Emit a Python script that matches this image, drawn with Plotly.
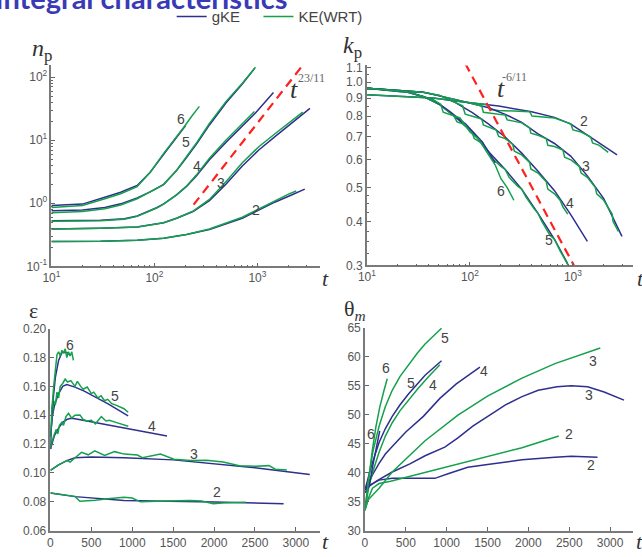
import plotly.graph_objects as go

W, H = 642, 557
BLUE = "#2e2f8f"
GREEN = "#15a04c"
RED = "#ff2020"
SANS = "Liberation Sans, Arial, sans-serif"
SERIF = "Liberation Serif, Times New Roman, serif"
TICKC = "#555555"

# ---------------- panel 1: n_p(t), log-log ----------------
np_t_b2 = [10, 30, 68, 123, 205, 342, 713, 1030, 1490, 2140, 2880]
np_b2 = [0.248, 0.25, 0.26, 0.28, 0.32, 0.385, 0.58, 0.78, 1.05, 1.35, 1.68]
np_t_g2 = [10, 30, 68, 123, 205, 342, 713, 1030, 1490, 2000, 2380]
np_g2 = [0.248, 0.25, 0.26, 0.28, 0.32, 0.39, 0.6, 0.82, 1.1, 1.4, 1.57]

np_t_b3 = [10, 30, 68, 123, 164, 237, 342, 494, 713, 1030, 1490, 2140, 2700, 3230]
np_b3 = [0.39, 0.40, 0.42, 0.49, 0.58, 0.74, 1.1, 2.0, 3.9, 7.0, 11.5, 18.5, 25, 32]
np_t_g3 = [10, 30, 68, 123, 164, 237, 342, 494, 713, 1030, 1490, 2140, 2750]
np_g3 = [0.39, 0.40, 0.42, 0.49, 0.58, 0.75, 1.15, 2.2, 4.4, 7.9, 12.8, 20, 28]

np_t_b4 = [10, 30, 51, 68, 105, 123, 164, 205, 255, 342, 494, 713, 956, 1430]
np_b4 = [0.53, 0.54, 0.57, 0.63, 0.85, 0.98, 1.36, 1.85, 2.7, 4.9, 9.2, 16.5, 27, 57]
np_t_g4 = [10, 30, 51, 68, 105, 123, 164, 205, 255, 342, 494, 713, 935]
np_g4 = [0.52, 0.53, 0.56, 0.62, 0.84, 0.97, 1.36, 1.88, 2.8, 5.2, 10, 18, 28.5]

np_t_b5 = [10, 20, 33, 47, 68, 91, 123, 164, 205, 260, 342, 494, 713, 940]
np_b5 = [0.76, 0.78, 0.86, 0.98, 1.22, 1.52, 2.0, 3.3, 5.3, 9.0, 17.5, 39, 78, 138]
np_t_g5 = [10, 20, 33, 47, 68, 91, 123, 164, 205, 260, 342, 494, 713, 956]
np_g5 = [0.71, 0.74, 0.82, 0.94, 1.18, 1.5, 1.98, 3.35, 5.5, 9.4, 18.5, 41, 80, 144]

np_t_b6 = [10, 20, 33, 47, 68, 91, 123, 164, 200]
np_b6 = [0.92, 0.97, 1.25, 1.5, 1.92, 3.1, 6.0, 11.0, 17.0]
np_t_g6 = [10, 20, 33, 47, 68, 91, 123, 164, 197, 230, 273]
np_g6 = [0.86, 0.92, 1.18, 1.42, 1.84, 3.1, 6.2, 11.3, 16.8, 24, 34.5]

np_t_fit = [240, 2750]
np_fit = [0.95, 155]

# ---------------- panel 2: k_p(t), log-log ----------------
kp_t_b2 = [10, 24.3, 43.8, 91, 190, 396, 662, 955, 1487, 2680]
kp_b2 = [0.92, 0.91, 0.90, 0.876, 0.854, 0.823, 0.793, 0.759, 0.697, 0.62]
kp_t_g2 = [10, 24.3, 43.8, 91, 150, 160, 190, 300, 380, 400, 500, 662, 900, 955, 1000,
           1200, 1487, 1550, 1800, 2000, 2200]
kp_g2 = [0.92, 0.91, 0.90, 0.876, 0.862, 0.835, 0.83, 0.825, 0.823, 0.80, 0.795, 0.79,
         0.765, 0.759, 0.73, 0.72, 0.697, 0.67, 0.66, 0.645, 0.63]

kp_t_b3 = [10, 35.1, 73.1, 105.6, 152, 220, 318, 458, 662, 955, 1380, 1990, 2990]
kp_b3 = [0.96, 0.936, 0.891, 0.867, 0.845, 0.809, 0.767, 0.712, 0.668, 0.614, 0.540, 0.465, 0.363]
kp_t_g3 = [10, 35.1, 73.1, 105.6, 130, 135, 180, 220, 230, 318, 380, 390, 458, 550, 570, 662,
           800, 830, 955, 1150, 1200, 1380, 1650, 1700, 1990, 2400, 2450, 2760]
kp_g3 = [0.96, 0.936, 0.891, 0.867, 0.855, 0.82, 0.81, 0.805, 0.78, 0.765, 0.74, 0.715, 0.705,
         0.69, 0.66, 0.655, 0.64, 0.61, 0.60, 0.575, 0.55, 0.535, 0.50, 0.48, 0.46, 0.42, 0.40, 0.375]

kp_t_b4 = [10, 35.1, 50.7, 73.1, 105.6, 152, 220, 318, 458, 662, 955, 1380]
kp_b4 = [0.96, 0.936, 0.916, 0.872, 0.818, 0.759, 0.697, 0.627, 0.557, 0.49, 0.418, 0.351]
kp_t_g4 = [10, 35.1, 50.7, 73.1, 85, 90, 105.6, 130, 135, 152, 180, 190, 220, 260, 270, 318,
           380, 390, 458, 550, 570, 662, 750, 800, 890]
kp_g4 = [0.96, 0.936, 0.916, 0.872, 0.855, 0.81, 0.80, 0.785, 0.755, 0.745, 0.73, 0.70, 0.69,
         0.665, 0.635, 0.62, 0.59, 0.565, 0.55, 0.52, 0.495, 0.48, 0.46, 0.44, 0.42]

kp_t_b5 = [10, 24.3, 35.1, 50.7, 73.1, 105.6, 152, 220, 318, 458, 662, 890]
kp_b5 = [0.96, 0.936, 0.91, 0.863, 0.793, 0.72, 0.633, 0.563, 0.495, 0.422, 0.356, 0.303]
kp_t_g5 = [10, 24.3, 35.1, 50.7, 70, 75, 85, 105, 110, 130, 152, 160, 200, 220, 240, 290, 318,
           350, 420, 458, 500, 600, 662, 750, 900]
kp_g5 = [0.96, 0.936, 0.91, 0.863, 0.80, 0.77, 0.76, 0.72, 0.69, 0.67, 0.633, 0.61, 0.575,
         0.563, 0.535, 0.505, 0.495, 0.47, 0.435, 0.422, 0.40, 0.365, 0.356, 0.33, 0.30]

kp_t_b6 = [10, 24.3, 43.8, 63, 91, 132, 176]
kp_b6 = [0.96, 0.94, 0.891, 0.827, 0.759, 0.675, 0.588]
kp_t_g6 = [10, 24.3, 43.8, 52, 55, 70, 80, 91, 100, 120, 132, 150, 176, 200, 230, 267]
kp_g6 = [0.96, 0.94, 0.891, 0.865, 0.82, 0.80, 0.79, 0.75, 0.72, 0.69, 0.66, 0.62, 0.58,
         0.53, 0.50, 0.46]

kp_t_fit = [90, 1020]
kp_fit = [1.13, 0.30]

# ---------------- panel 3: epsilon(t) ----------------
ep_t_b2 = [0, 300, 900, 1500, 2000, 2850]
ep_b2 = [0.086, 0.0835, 0.0808, 0.0805, 0.0798, 0.0785]
ep_t_g2 = [0, 300, 360, 450, 550, 700, 900, 1000, 1100, 1300, 1500, 1700, 1850, 1990, 2100,
           2310, 2390]
ep_g2 = [0.086, 0.0837, 0.0803, 0.0805, 0.081, 0.0821, 0.083, 0.0825, 0.0799, 0.0803, 0.0808,
         0.0808, 0.0805, 0.0785, 0.079, 0.0792, 0.0796]

ep_t_b3 = [0, 100, 200, 300, 500, 900, 1500, 1900, 2500, 3170]
ep_b3 = [0.1018, 0.1055, 0.1085, 0.1105, 0.111, 0.1105, 0.109, 0.107, 0.1035, 0.0988]
ep_t_g3 = [0, 100, 201, 241, 301, 381, 462, 542, 663, 783, 904, 1064, 1124, 1265, 1345, 1510,
           1710, 1910, 2110, 2310, 2510, 2670, 2750, 2890]
ep_g3 = [0.1018, 0.1055, 0.1085, 0.1074, 0.1105, 0.1142, 0.1125, 0.1153, 0.112, 0.1147, 0.113,
         0.1124, 0.1105, 0.112, 0.113, 0.1095, 0.1085, 0.1088, 0.1075, 0.105, 0.1045, 0.105,
         0.1025, 0.102]

ep_t_b4 = [0, 20, 50, 100, 150, 200, 250, 300, 500, 700, 945, 1200, 1425]
ep_b4 = [0.1165, 0.121, 0.126, 0.131, 0.135, 0.137, 0.1378, 0.1375, 0.1353, 0.1331, 0.1305,
         0.128, 0.1255]
ep_t_g4 = [0, 20, 50, 70, 90, 110, 140, 160, 190, 221, 260, 300, 361, 400, 450, 500, 550, 622,
           680, 720, 800, 870, 952]
ep_g4 = [0.1165, 0.122, 0.127, 0.13, 0.127, 0.133, 0.135, 0.133, 0.139, 0.1413, 0.138, 0.14,
         0.1402, 0.137, 0.136, 0.1365, 0.134, 0.139, 0.136, 0.1365, 0.135, 0.134, 0.1323]

ep_t_b5 = [0, 20, 50, 100, 150, 200, 300, 420, 550, 700, 950]
ep_b5 = [0.125, 0.138, 0.147, 0.155, 0.160, 0.1612, 0.1595, 0.1565, 0.1525, 0.148, 0.1395]
ep_t_g5 = [0, 20, 40, 60, 80, 100, 120, 150, 180, 210, 250, 300, 330, 370, 400, 450, 500, 530,
           580, 620, 660, 700, 750, 800, 850, 900, 950]
ep_g5 = [0.125, 0.14, 0.15, 0.147, 0.156, 0.152, 0.16, 0.162, 0.165, 0.163, 0.164, 0.160,
         0.1635, 0.160, 0.158, 0.1595, 0.155, 0.156, 0.152, 0.1535, 0.150, 0.151, 0.148, 0.147,
         0.146, 0.1445, 0.142]

ep_t_b6 = [0, 20, 60, 100, 141, 200, 241]
ep_b6 = [0.1165, 0.1435, 0.166, 0.178, 0.1835, 0.1835, 0.1815]
ep_t_g6 = [0, 12, 40, 60, 80, 100, 120, 141, 160, 181, 200, 221, 241, 261, 281]
ep_g6 = [0.117, 0.14, 0.16, 0.172, 0.182, 0.184, 0.181, 0.185, 0.183, 0.186, 0.18, 0.184,
         0.181, 0.184, 0.178]

# ---------------- panel 4: theta_m(t) ----------------
th_t_b2 = [0, 80, 173, 334, 600, 856, 1017, 1258, 1500, 1922, 2324, 2525, 2846]
th_b2 = [37.2, 38.0, 38.7, 39.0, 39.0, 39.0, 39.8, 40.9, 41.4, 42.2, 42.65, 42.8, 42.65]
th_t_g2 = [0, 40, 92, 173, 314, 700, 1118, 1500, 1922, 2372]
th_g2 = [33.5, 35.5, 37.3, 38.1, 38.5, 39.9, 41.4, 42.8, 44.3, 46.3]

th_t_b3 = [0, 50, 150, 334, 550, 736, 977, 1138, 1320, 1500, 1720, 1922, 2120, 2350, 2525,
           2725, 2927, 3170]
th_b3 = [37.0, 37.6, 38.6, 40.1, 41.5, 42.9, 44.4, 46.0, 48.0, 49.7, 51.7, 53.1, 54.2, 54.8,
         55.0, 54.8, 53.9, 52.5]
th_t_g3 = [0, 40, 173, 334, 736, 1138, 1500, 1922, 2325, 2880]
th_g3 = [33.5, 35.3, 37.3, 40.1, 45.5, 49.9, 53.2, 56.3, 58.8, 61.5]

th_t_b4 = [0, 40, 100, 173, 250, 334, 500, 715, 917, 1118, 1270, 1407]
th_b4 = [37.0, 38.2, 39.8, 41.6, 43.2, 44.5, 47.0, 49.7, 52.8, 55.3, 56.9, 58.2]
th_t_g4 = [0, 20, 52, 100, 173, 250, 334, 430, 535, 650, 780, 917]
th_g4 = [33.5, 35.5, 37.9, 40.3, 43.5, 46.3, 48.6, 50.7, 52.6, 54.5, 56.6, 58.6]

th_t_b5 = [0, 30, 80, 173, 250, 334, 430, 535, 640, 736, 840, 937]
th_b5 = [37.0, 38.5, 41.2, 45.2, 47.6, 49.7, 51.7, 53.6, 55.3, 56.8, 58.1, 59.3]
th_t_g5 = [0, 20, 50, 100, 173, 250, 334, 430, 535, 640, 736, 840, 937]
th_g5 = [33.5, 36.0, 39.5, 43.8, 48.0, 51.4, 54.2, 56.6, 58.7, 60.6, 62.2, 63.6, 64.9]

th_t_b6 = [0, 52, 100, 140, 181]
th_b6 = [36.5, 37.6, 41.5, 44.5, 47.2]
th_t_g6 = [0, 20, 50, 90, 133, 180, 230, 273]
th_g6 = [33.5, 35.8, 39.5, 43.8, 47.8, 51.2, 54.0, 56.2]

series_labels = ["2", "3", "4", "5", "6"]

fig = go.Figure()


def line(x, y, color, xa, ya, dash=None, width=1.5, legend=None, name=None):
    fig.add_trace(go.Scatter(
        x=x, y=y, mode="lines", xaxis=xa, yaxis=ya,
        line=dict(color=color, width=width, dash=dash),
        showlegend=legend is not None, legend=legend if legend else "legend",
        name=name, hoverinfo="skip"))


panels = [
    ("x", "y", [(np_t_b2, np_b2, np_t_g2, np_g2), (np_t_b3, np_b3, np_t_g3, np_g3),
                (np_t_b4, np_b4, np_t_g4, np_g4), (np_t_b5, np_b5, np_t_g5, np_g5),
                (np_t_b6, np_b6, np_t_g6, np_g6)]),
    ("x2", "y2", [(kp_t_b2, kp_b2, kp_t_g2, kp_g2), (kp_t_b3, kp_b3, kp_t_g3, kp_g3),
                  (kp_t_b4, kp_b4, kp_t_g4, kp_g4), (kp_t_b5, kp_b5, kp_t_g5, kp_g5),
                  (kp_t_b6, kp_b6, kp_t_g6, kp_g6)]),
    ("x3", "y3", [(ep_t_b2, ep_b2, ep_t_g2, ep_g2), (ep_t_b3, ep_b3, ep_t_g3, ep_g3),
                  (ep_t_b4, ep_b4, ep_t_g4, ep_g4), (ep_t_b5, ep_b5, ep_t_g5, ep_g5),
                  (ep_t_b6, ep_b6, ep_t_g6, ep_g6)]),
    ("x4", "y4", [(th_t_b2, th_b2, th_t_g2, th_g2), (th_t_b3, th_b3, th_t_g3, th_g3),
                  (th_t_b4, th_b4, th_t_g4, th_g4), (th_t_b5, th_b5, th_t_g5, th_g5),
                  (th_t_b6, th_b6, th_t_g6, th_g6)]),
]

first = True
for xa, ya, curves in panels:
    for tb, vb, tg, vg in curves:
        line(tb, vb, BLUE, xa, ya, legend="legend" if first else None, name="gKE")
        line(tg, vg, GREEN, xa, ya, legend="legend2" if first else None, name="KE(WRT)")
        first = False

line(np_t_fit, np_fit, RED, "x", "y", dash="9px,6px", width=2.2)
line(kp_t_fit, kp_fit, RED, "x2", "y2", dash="9px,6px", width=2.2)

# ---------------- axes ----------------
def px_x(a, b):
    return [a / W, b / W]


def px_y(top, bottom):
    return [1 - bottom / H, 1 - top / H]


axcommon = dict(showgrid=False, zeroline=False, showline=True, linecolor="#7a7a7a",
                linewidth=1.5, ticks="inside", tickcolor="#666", ticklen=4,
                tickfont=dict(family=SANS, size=12, color=TICKC), mirror=False)

log_minor_x = [20, 30, 40, 50, 60, 70, 80, 90, 200, 300, 400, 500, 600, 700, 800, 900,
               2000, 3000]
log_minor_y1 = [0.2, 0.3, 0.4, 0.5, 0.6, 0.7, 0.8, 0.9, 2, 3, 4, 5, 6, 7, 8, 9,
                20, 30, 40, 50, 60, 70, 80, 90, 200]
kp_minor = [0.325, 0.35, 0.375, 0.425, 0.45, 0.475, 0.55, 0.65, 0.75, 0.85, 0.95, 1.05]
minor = lambda vals: dict(tickmode="array", tickvals=vals, ticks="inside", ticklen=2,
                          tickcolor="#666", showgrid=False)

np_ticks = [0.1, 1, 10, 100]
np_ticktext = ["10<sup>-1</sup>", "10<sup>0</sup>", "10<sup>1</sup>", "10<sup>2</sup>"]
t_log_ticks = [10, 100, 1000]
t_log_text = ["10<sup>1</sup>", "10<sup>2</sup>", "10<sup>3</sup>"]
kp_ticks = [0.3, 0.4, 0.5, 0.6, 0.7, 0.8, 0.9, 1.0, 1.1]
kp_text = ["0.3", "0.4", "0.5", "0.6", "0.7", "0.8", "0.9", "1.0", "1.1"]

fig.update_layout(
    width=W, height=H, margin=dict(l=0, r=0, t=0, b=0),
    paper_bgcolor="white", plot_bgcolor="white",
    xaxis=dict(axcommon, type="log", domain=px_x(43, 315), range=[1, 3.603], anchor="y",
               tickmode="array", tickvals=t_log_ticks, ticktext=t_log_text,
               minor=minor(log_minor_x)),
    yaxis=dict(axcommon, type="log", domain=px_y(60, 266), range=[-1, 2.186], anchor="x",
               tickmode="array", tickvals=np_ticks, ticktext=np_ticktext,
               minor=minor(log_minor_y1)),
    xaxis2=dict(axcommon, type="log", domain=px_x(363, 633), range=[1, 3.584], anchor="y2",
                tickmode="array", tickvals=t_log_ticks, ticktext=t_log_text,
                minor=minor(log_minor_x)),
    yaxis2=dict(axcommon, type="log", domain=px_y(60, 265), range=[-0.5229, 0.0473],
                anchor="x2", tickmode="array", tickvals=kp_ticks, ticktext=kp_text,
                minor=minor(kp_minor)),
    xaxis3=dict(axcommon, domain=px_x(42, 315), range=[0, 3290], anchor="y3",
                tickmode="linear", tick0=0, dtick=500),
    yaxis3=dict(axcommon, domain=px_y(330, 537), range=[0.06, 0.20], anchor="x3",
                tickmode="linear", tick0=0.06, dtick=0.02, tickformat=".2f"),
    xaxis4=dict(axcommon, domain=px_x(361, 633), range=[0, 3282], anchor="y4",
                tickmode="linear", tick0=0, dtick=500),
    yaxis4=dict(axcommon, domain=px_y(329, 537), range=[30, 65], anchor="x4",
                tickmode="linear", tick0=30, dtick=5),
    legend=dict(x=165 / W, y=1 + 7 / H, xanchor="left", yanchor="top", orientation="h",
                font=dict(family=SANS, size=15, color="#444"), bgcolor="rgba(0,0,0,0)",
                borderwidth=0),
    legend2=dict(x=253 / W, y=1 + 7 / H, xanchor="left", yanchor="top", orientation="h",
                 font=dict(family=SANS, size=15, color="#444"), bgcolor="rgba(0,0,0,0)",
                 borderwidth=0),
)

# ---------------- text annotations ----------------
anns = []


def ann(text, x, y, size=14, color="#444", family=SANS, xanchor="center", yanchor="middle"):
    anns.append(dict(text=text, x=x / W, y=1 - y / H, xref="paper", yref="paper",
                     showarrow=False, xanchor=xanchor, yanchor=yanchor,
                     font=dict(family=family, size=size, color=color)))


# clipped slide title
ann("<b>Integral characteristics</b>", 284, 10, size=29, color="#3a3ab6",
    family="Lato, Liberation Sans, sans-serif", xanchor="right", yanchor="bottom")

# axis titles
ann("<i>n</i><sub>p</sub>", 33, 44, size=24, family=SERIF, color="#333")
ann("<i>k</i><sub>p</sub>", 348, 41, size=24, family=SERIF, color="#333")
ann("ε", 25, 311, size=22, family=SERIF, color="#333")
ann("θ<sub><i>m</i></sub>", 351, 311, size=22, family=SERIF, color="#333")
for tx, ty in [(321, 278), (640, 278), (321, 548), (639, 548)]:
    ann("<i>t</i>", tx, ty, size=22, family=SERIF, color="#333")

# power-law labels
ann("<i>t</i>", 289, 85, size=26, family=SERIF, color="#333")
ann("23/11", 307, 73, size=12, family=SERIF, color="#666")
ann("<i>t</i>", 499, 84, size=26, family=SERIF, color="#333")
ann("-6/11", 513, 72, size=12, family=SERIF, color="#666")

# curve numbers
np_pos = [(251, 208), (215, 181), (191, 163), (180, 138), (174, 115)]
kp_pos = [(583, 117), (585, 163), (569, 201), (548, 239), (499, 189)]
ep_pos = [(211, 498), (188, 459), (145, 430), (108, 399), (62, 347)]
th_pos = [(568, 438), (590, 470), (592, 363), (588, 398), (482, 373), (430, 388),
          (442, 340), (408, 386), (382, 370), (367, 438)]
th_txt = ["2", "2", "3", "3", "4", "4", "5", "5", "6", "6"]
for lab, (x, y) in zip(series_labels, np_pos):
    ann(lab, x, y)
for lab, (x, y) in zip(series_labels, kp_pos):
    ann(lab, x, y)
for lab, (x, y) in zip(series_labels, ep_pos):
    ann(lab, x, y)
for lab, (x, y) in zip(th_txt, th_pos):
    ann(lab, x, y)

fig.update_layout(annotations=anns)
fig.write_html("out.html")
